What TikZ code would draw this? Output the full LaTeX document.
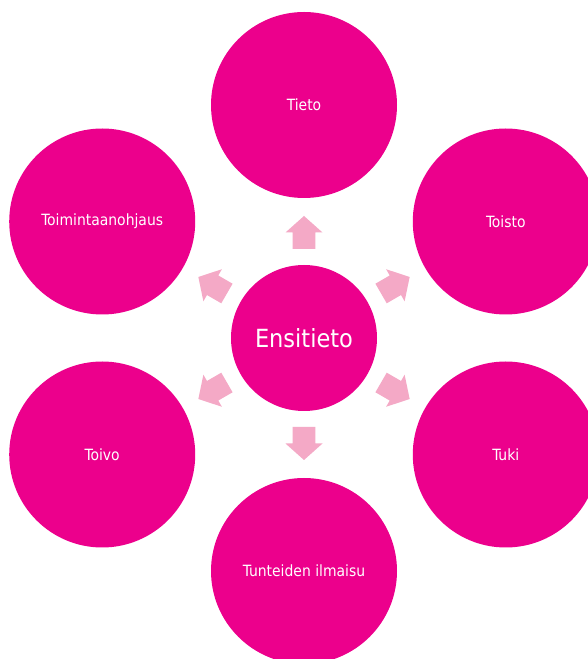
\documentclass[tikz,border=0pt]{standalone}
\usepackage{fontspec}
\usetikzlibrary{calc}
\setmainfont{DejaVu Sans Condensed}
\definecolor{mag}{HTML}{EC008C}
\definecolor{lpink}{HTML}{F4A9C6}
\tikzset{
  big/.style={circle, fill=mag, draw=none, minimum size=146pt, inner sep=0pt, text=white, font=\fontsize{25}{30}\selectfont},
  outer/.style={circle, fill=mag, draw=none, minimum size=186pt, inner sep=0pt, text=white, font=\fontsize{15.5}{18}\selectfont},
  blockarrow/.style={fill=lpink, draw=none}
}
\begin{document}
\begin{tikzpicture}[x=1pt,y=1pt]
\useasboundingbox (0,0) rectangle (588,659);
\fill[white] (0,0) rectangle (588,659);
\begin{scope}
\clip (0,0) rectangle (588,659);
\node[big] (c) at (304,321) {Ensitieto};
\node[outer] (n1) at ($(c)+(90:233)$) {Tieto};
\node[outer] (n2) at ($(c)+(30:233)$) {Toisto};
\node[outer] (n3) at ($(c)+(-30:233)$) {Tuki};
\node[outer] (n4) at ($(c)+(-90:233)$) {Tunteiden ilmaisu};
\node[outer] (n5) at ($(c)+(-150:233)$) {Toivo};
\node[outer] (n6) at ($(c)+(150:233)$) {Toimintaanohjaus};
\foreach \ang in {90,30,-30,-90,-150,150}{
  \fill[blockarrow, shift={(c.center)}, rotate=\ang]
    (89,-11.3) -- (105.5,-11.3) -- (105.5,-18.5) -- (122,0) -- (105.5,18.5) -- (105.5,11.3) -- (89,11.3) -- cycle;
}
\end{scope}
\end{tikzpicture}
\end{document}
